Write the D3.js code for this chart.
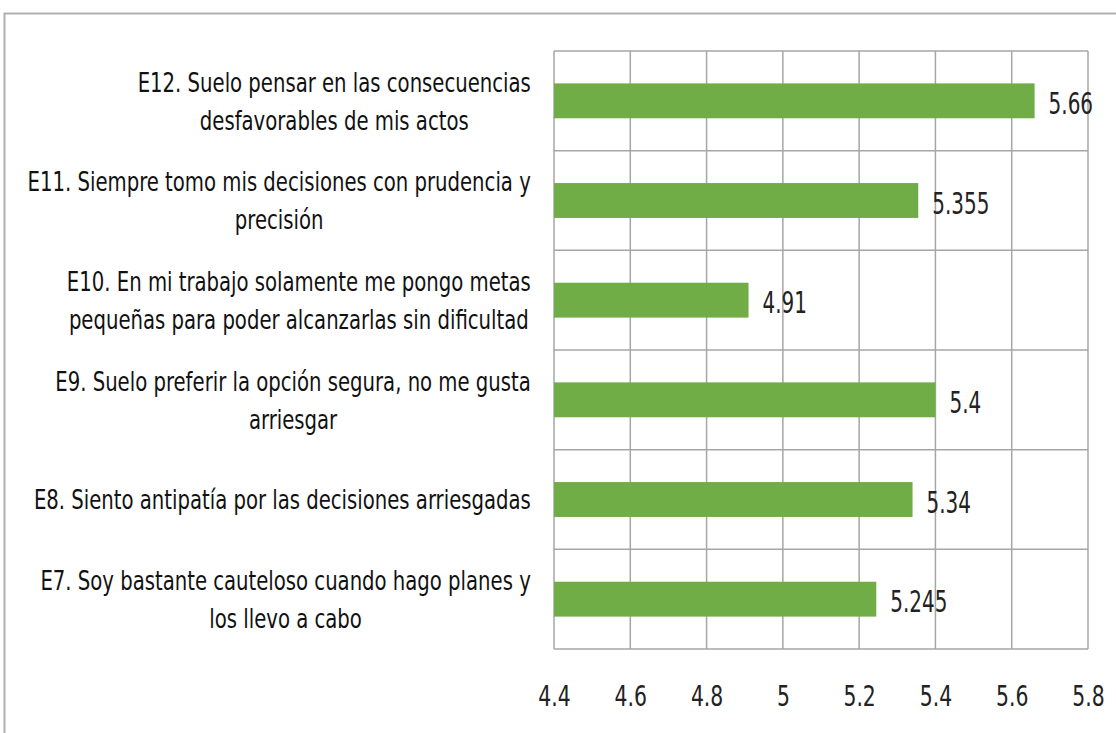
<!DOCTYPE html>
<head>
    <meta charset="utf-8">
    <script src="https://d3js.org/d3.v7.min.js"></script>
    <style>
        body{ margin: 0; background: #fff; }
        text{
            font-family: "DejaVu Sans Condensed", "DejaVu Sans", sans-serif;
            fill: #000;
        }
        text.label{ font-size: 27px; fill: #111; }
        text.valueLabel{ font-size: 30px; fill: #222; }
        .xAxis text{ font-size: 29px; fill: #222; }
        .grid line{ stroke: #a6a6a6; stroke-width: 1.5; }
    </style>
</head>
<body>
<script>
    // items top to bottom
    const items = ["E12", "E11", "E10", "E9", "E8", "E7"];
    const labelLines = [
        ["E12. Suelo pensar en las consecuencias", "desfavorables de mis actos"],
        ["E11. Siempre tomo mis decisiones con prudencia y", "precisión"],
        ["E10. En mi trabajo solamente me pongo metas", "pequeñas para poder alcanzarlas sin dificultad"],
        ["E9. Suelo preferir la opción segura, no me gusta", "arriesgar"],
        ["E8. Siento antipatía por las decisiones arriesgadas"],
        ["E7. Soy bastante cauteloso cuando hago planes y", "los llevo a cabo"]
    ];
    const values = [5.66, 5.355, 4.91, 5.4, 5.34, 5.245];
    const valueText = ["5.66", "5.355", "4.91", "5.4", "5.34", "5.245"];
    const xTicks = [4.4, 4.6, 4.8, 5, 5.2, 5.4, 5.6, 5.8];

    const W = 1116, H = 733;
    const margin = {top: 51, right: 28, bottom: 84, left: 554};

    const svg = d3.select("body").append("svg")
        .attr("width", W)
        .attr("height", H);

    // outer chart frame (right/bottom edges are cut off in the picture)
    svg.append("rect")
        .attr("x", 4.5).attr("y", 13.5)
        .attr("width", W + 20).attr("height", H + 20)
        .attr("fill", "none")
        .attr("stroke", "#b0b0b0")
        .attr("stroke-width", 2);

    const x = d3.scaleLinear()
        .domain([4.4, 5.8])
        .range([margin.left, W - margin.right]);

    const y = d3.scaleBand()
        .domain(items)
        .range([margin.top, H - margin.bottom]);

    const barH = y.bandwidth() * 0.35;

    // grid
    const grid = svg.append("g").attr("class", "grid");
    grid.selectAll("line.v")
        .data(xTicks)
        .enter().append("line")
        .attr("class", "v")
        .attr("x1", d => x(d)).attr("x2", d => x(d))
        .attr("y1", margin.top).attr("y2", H - margin.bottom);
    grid.selectAll("line.h")
        .data(d3.range(items.length + 1))
        .enter().append("line")
        .attr("class", "h")
        .attr("x1", x(4.4)).attr("x2", x(5.8))
        .attr("y1", i => margin.top + i * y.step())
        .attr("y2", i => margin.top + i * y.step());

    // bars
    svg.selectAll("rect.bar")
        .data(values)
        .enter().append("rect")
        .attr("class", "bar")
        .attr("x", x(4.4))
        .attr("y", (d, i) => y(items[i]) + y.bandwidth() / 2 - barH / 2)
        .attr("width", d => x(d) - x(4.4))
        .attr("height", barH)
        .attr("fill", "#70ad47");

    // value labels (narrow look of the original font)
    svg.selectAll("g.val")
        .data(values)
        .enter().append("g")
        .attr("class", "val")
        .attr("transform", (d, i) => `translate(${x(d) + 14},${y(items[i]) + y.bandwidth() / 2 + 13}) scale(0.74,1)`)
        .append("text")
        .attr("class", "valueLabel")
        .text((d, i) => valueText[i]);

    // category labels, centred block whose right edge sits at x=531
    const sx = 0.81;
    const lab = svg.selectAll("g.lab")
        .data(labelLines)
        .enter().append("g")
        .attr("class", "lab");

    lab.each(function(lines, i) {
        const g = d3.select(this);
        const cy = y(items[i]) + y.bandwidth() / 2;
        const lh = 38;
        const t = g.append("text")
            .attr("class", "label")
            .attr("text-anchor", "middle");
        lines.forEach((s, k) => {
            t.append("tspan")
                .attr("x", 0)
                .attr("y", cy + 10 + (k - (lines.length - 1) / 2) * lh)
                .text(s);
        });
        const w = t.node().getBBox().width * sx;
        g.attr("transform", `translate(${531 - w / 2},0) scale(${sx},1)`);
    });

    // x axis labels
    const xAxis = d3.axisBottom(x)
        .tickValues(xTicks)
        .tickSize(0)
        .tickPadding(0)
        .tickFormat(d => d3.format("")(d));

    svg.append("g")
        .attr("class", "xAxis")
        .attr("transform", `translate(0, ${H - margin.bottom + 36})`)
        .call(xAxis)
        .call(g => g.select(".domain").remove())
        .selectAll(".tick text")
        .attr("transform", "scale(0.78,1)");
</script>
</body>
